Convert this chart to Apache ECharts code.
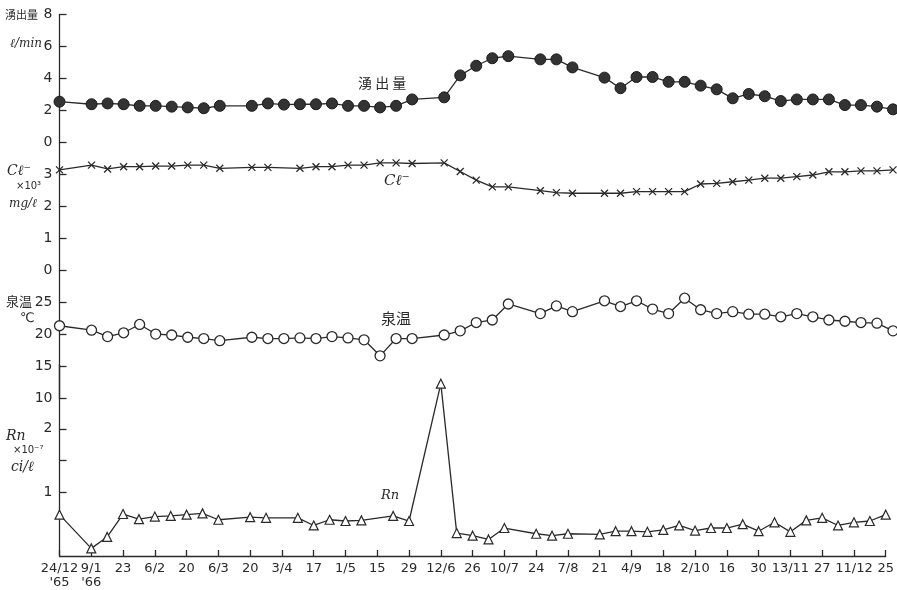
<!DOCTYPE html>
<html><head><meta charset="utf-8">
<script src="https://cdn.jsdelivr.net/npm/echarts@6/dist/echarts.min.js"></script>
<style>html,body{margin:0;padding:0;background:#fff}#c{width:897px;height:590px}</style>
</head><body><div id="c"></div>
<script>
// x tick labels (every second week, starting 24 Dec 1965)
const xTickLabels = ["24/12\n'65","9/1\n'66","23","6/2","20","6/3","20","3/4","17","1/5","15","29","12/6","26","10/7","24","7/8","21","4/9","18","2/10","16","30","13/11","27","11/12","25"];

// weekly values (index = week number from 24/12/'65), null = not measured
const flowRate = [2.56,null,2.4,2.45,2.4,2.3,2.3,2.25,2.2,2.15,2.3,null,2.3,2.45,2.38,2.4,2.4,2.45,2.3,2.3,2.2,2.3,2.7,null,2.83,4.2,4.8,5.27,5.4,null,5.2,5.2,4.7,null,4.06,3.4,4.1,4.1,3.8,3.8,3.56,3.33,2.77,3.04,2.9,2.6,2.7,2.7,2.7,2.35,2.35,2.25,2.08];
const chloride = [3.15,null,3.3,3.18,3.25,3.25,3.27,3.27,3.3,3.3,3.2,null,3.23,3.23,null,3.2,3.25,3.25,3.3,3.3,3.37,3.37,3.35,null,3.37,3.1,2.83,2.62,2.62,null,2.5,2.44,2.42,null,2.42,2.42,2.47,2.47,2.47,2.47,2.71,2.73,2.78,2.83,2.89,2.89,2.94,2.99,3.09,3.09,3.12,3.12,3.15];
const temperature = [21.4,null,20.7,19.7,20.3,21.6,20.1,19.95,19.6,19.4,19.06,null,19.6,19.4,19.4,19.5,19.4,19.7,19.5,19.2,16.7,19.4,19.4,null,19.95,20.6,21.9,22.3,24.8,null,23.3,24.5,23.6,null,25.3,24.4,25.3,24.0,23.3,25.7,23.9,23.3,23.6,23.2,23.2,22.8,23.3,22.8,22.3,22.1,21.9,21.8,20.6];
const radon = [0.65,null,0.12,0.30,0.66,0.58,0.62,0.63,0.65,0.67,0.57,null,0.61,0.60,null,0.60,0.48,0.57,0.55,0.56,null,0.63,0.55,null,2.71,0.36,0.32,0.26,0.44,null,0.35,0.32,0.35,null,0.34,0.39,0.39,0.38,0.41,0.48,0.40,0.44,0.44,0.50,0.39,0.53,0.38,0.56,0.60,0.48,0.53,0.55,0.65];

// y tick labels per panel
const flowTicks = [0,2,4,6,8];
const clTicks = [0,1,2,3];
const tempTicks = [10,15,20,25];
const rnLabels = [1,2];
const rnTicks = [1,1.5,2];

const ink = '#2a2a2a';
const toPairs = arr => arr.map((v,i)=> v==null ? null : [i,v]).filter(Boolean);

const G = {left:59.5, right:4};
const grids = [
  {left:G.left, right:G.right, top:14.5, height:128.2},
  {left:G.left, right:G.right, top:142.7, height:128},
  {left:G.left, right:G.right, top:270.7, height:128},
  {left:G.left, right:G.right, top:365.2, height:194.1}
];
function xAx(gi, show){
  return {type:'value', gridIndex:gi, min:0, max:52, interval:2, show:show,
    axisLine:{show:true, onZero:false, lineStyle:{color:ink,width:1.3}},
    axisTick:{show:true, inside:true, length:6, lineStyle:{color:ink,width:1.3}},
    axisLabel:{color:ink, fontSize:13, lineHeight:14, margin:6, fontFamily:'DejaVu Sans',
      formatter: v => xTickLabels[Math.round(v/2)] || ''},
    splitLine:{show:false}};
}
function yAx(gi, min, max, labels, ticks){
  return {type:'value', gridIndex:gi, min:min, max:max,
    axisLine:{show:true, lineStyle:{color:ink,width:1.3}},
    axisTick:{show:true, inside:true, length:7, customValues:ticks, lineStyle:{color:ink,width:1.3}},
    axisLabel:{customValues:labels, color:ink, fontSize:14, margin:7, fontFamily:'DejaVu Sans'},
    splitLine:{show:false}};
}
const lineStyle = {color:ink, width:1.3};
const crossPath = 'path://M0,0L10,10M10,0L0,10';

const txt = (x,y,text,font) => ({type:'text', x:x, y:y, style:{text:text, font:font, fill:ink}});
const serifI = 'italic 14px "DejaVu Serif"';
const cjk = '"Noto Sans CJK JP"';

const option = {
  animation:false,
  backgroundColor:'#fff',
  grid: grids,
  xAxis: [xAx(0,false), xAx(1,false), xAx(2,false), xAx(3,true)],
  yAxis: [
    yAx(0,0,8,flowTicks,flowTicks),
    yAx(1,0,4,clTicks,clTicks),
    yAx(2,10,30,tempTicks,tempTicks),
    yAx(3,0,3,rnLabels,rnTicks)
  ],
  series: [
    {name:'湧出量', type:'line', xAxisIndex:0, yAxisIndex:0, data:toPairs(flowRate), clip:false,
      symbol:'circle', symbolSize:11, itemStyle:{color:'#333', borderColor:'#1a1a1a', borderWidth:1}, lineStyle:lineStyle},
    {name:'Cl', type:'line', xAxisIndex:1, yAxisIndex:1, data:toPairs(chloride), clip:false,
      symbol:crossPath, symbolSize:7, itemStyle:{color:'rgba(0,0,0,0)', borderColor:ink, borderWidth:1.3}, lineStyle:lineStyle},
    {name:'泉温', type:'line', xAxisIndex:2, yAxisIndex:2, data:toPairs(temperature), clip:false,
      symbol:'circle', symbolSize:10, itemStyle:{color:'#fff', borderColor:ink, borderWidth:1.3}, lineStyle:lineStyle},
    {name:'Rn', type:'line', xAxisIndex:3, yAxisIndex:3, data:toPairs(radon), clip:false,
      symbol:'triangle', symbolSize:9, itemStyle:{color:'#fff', borderColor:ink, borderWidth:1.2}, lineStyle:lineStyle}
  ],
  graphic: [
    txt(5,9,'湧出量','11px '+cjk),
    txt(10,38,'ℓ/min','italic 12px "DejaVu Serif"'),
    txt(7,164,'Cℓ⁻', serifI),
    txt(16,181,'×10³','10px "DejaVu Sans"'),
    txt(9,198,'mg/ℓ','italic 12px "DejaVu Serif"'),
    txt(6,295,'泉温','13px '+cjk),
    txt(20,312,'℃','13px "DejaVu Sans"'),
    txt(6,429,'Rn', serifI),
    txt(13,445,'×10⁻⁷','10px "DejaVu Sans"'),
    txt(11,460,'ci/ℓ', serifI),
    txt(358,76,'湧 出 量','14px '+cjk),
    txt(384,174,'Cℓ⁻','italic 15px "DejaVu Serif"'),
    txt(381,311,'泉温','15px '+cjk),
    txt(381,489,'Rn','italic 13px "DejaVu Serif"')
  ]
};
const chart = echarts.init(document.getElementById('c'), null, {renderer:'canvas'});
chart.setOption(option);
</script>
</body></html>
